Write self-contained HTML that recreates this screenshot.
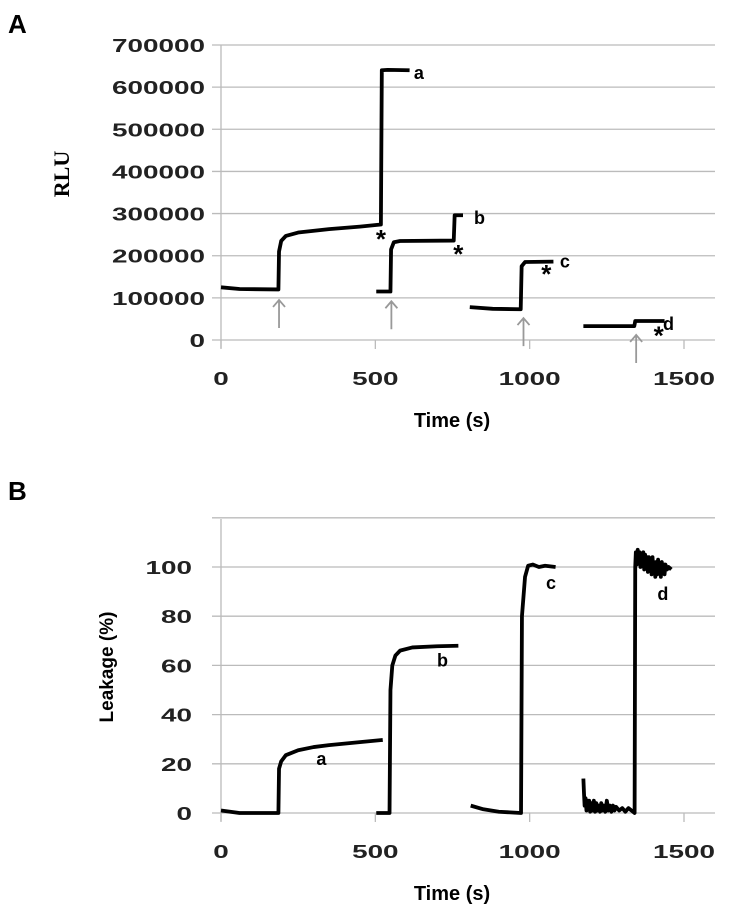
<!DOCTYPE html>
<html><head><meta charset="utf-8"><style>
body{margin:0;background:#fff;}
svg{display:block;font-family:"Liberation Sans",sans-serif;}
.tick{font-size:18px;font-weight:bold;fill:#222;}
</style></head><body>
<svg id="fig" width="729" height="909" viewBox="0 0 729 909">
<text x="8" y="33" font-size="26" font-weight="bold">A</text>
<text x="8" y="500" font-size="26" font-weight="bold">B</text>
<g id="pa"></g>
<g id="pb"></g>
</svg>
<script>
const NS="http://www.w3.org/2000/svg";
// Panel A data
const xTicks=[0,500,1000,1500];
const aYTicks=[0,100000,200000,300000,400000,500000,600000,700000];
const aSeriesA=[[0,125000],[60,121000],[186,120000],[188,210000],[195,235000],[210,247000],[250,255000],[350,263000],[450,269000],[518,274000],[521,640000],[540,641000],[611,640000]];
const aSeriesB=[[503,115000],[549,115000],[551,215000],[560,232000],[580,235000],[754,236000],[757,296000],[784,296000]];
const aSeriesC=[[806,78000],[880,74000],[971,73000],[974,175000],[985,185000],[1077,186000]];
const aSeriesD=[[1174,33000],[1339,33000],[1342,45000],[1437,45000]];
const aArrows=[[188,95000],[552,92000],[980,52000],[1345,12000]];
const aStars=[[518,249000],[769,214000],[1054,166000],[1418,20000]];
const aLabels=[["a",641,633000],["b",836,289000],["c",1114,186000],["d",1448,38000]];
// Panel B data
const bYTicks=[0,20,40,60,80,100,120];
const bYLabels=["0","20","40","60","80","100",""];
const bSeriesA=[[0,1],[60,0],[186,0],[188,18],[195,21],[210,23.5],[250,25.5],[300,26.8],[350,27.6],[450,28.8],[524,29.7]];
const bSeriesB=[[503,0],[546,0],[549,50],[555,60],[565,64],[580,66],[620,67.3],[700,67.8],[769,68]];
const bSeriesC=[[809,3],[850,1.5],[900,0.5],[972,0],[975,80],[985,96],[995,100.5],[1010,101],[1030,100],[1050,100.5],[1084,100]];
const bSeriesD=[[1174,14],[1176,8],[1178,3],[1181,6],[1184,1],[1187,5],[1190,2],[1193,5],[1196,0.5],[1200,4],[1204,1],[1208,5],[1212,0.5],[1216,4],[1220,1],[1224,3],[1228,0.5],[1232,4],[1236,1],[1240,3],[1245,0.5],[1250,5],[1255,1],[1260,3],[1265,0.5],[1270,3],[1275,1],[1280,2.5],[1290,1],[1300,2],[1310,0.5],[1320,2],[1335,0.5],[1340,0],[1342,100],[1344,106],[1347,101],[1350,107],[1353,102],[1356,106],[1359,100],[1362,105],[1365,101],[1368,106],[1371,99],[1374,105],[1377,100],[1380,104],[1383,98],[1386,104],[1389,99],[1392,103],[1395,97],[1398,104],[1401,98],[1404,102],[1407,96],[1410,102],[1413,97],[1416,103],[1419,98],[1422,101],[1425,96],[1428,102],[1431,98],[1434,101],[1437,97],[1440,101],[1445,99],[1450,100],[1459,99]];
const bLabels=[["a",325,22],["b",716,62],["c",1069,93.5],["d",1430,89]];

function sx(t){return 221+t*(463/1500);}
function syA(v){return 340-v*(295/700000);}
function syB(v){return 813-v*(246/100);}
function mk(parent,tag,attrs){const e=document.createElementNS(NS,tag);for(const k in attrs)e.setAttribute(k,attrs[k]);parent.appendChild(e);return e;}

function axes(g,yTicks,yLabs,sy,yTop,yBottom,xLabelY,tickRight){
  yTicks.forEach((v,i)=>{
    const l=mk(g,'line',{x1:212,x2:715,y1:sy(v),y2:sy(v),stroke:'#bbb','stroke-width':1.3});
    
    
    if(yLabs[i]!==""){
      const s=yLabs[i];
      const t=mk(g,'text',{x:tickRight,y:sy(v)+7,'text-anchor':'end',class:'tick',textLength:s.length*15.5,lengthAdjust:'spacingAndGlyphs'});
      t.textContent=s;
      
      
    }
  });
  const ax=mk(g,'line',{x1:221,x2:221,y1:yTop,y2:yBottom+8,stroke:'#bbb','stroke-width':1.3});
  
  
  xTicks.forEach(t=>{
    const l=mk(g,'line',{x1:sx(t),x2:sx(t),y1:yBottom,y2:yBottom+9,stroke:'#bbb','stroke-width':1.3});
    
    
    const s=String(t);
    const tx=mk(g,'text',{x:sx(t),y:xLabelY,'text-anchor':'middle',class:'tick',textLength:s.length*15.5,lengthAdjust:'spacingAndGlyphs'});
    tx.textContent=s;
    
    
  });
}
function line(g,data,sy,name){
  const p=mk(g,'polyline',{points:data.map(d=>sx(d[0])+','+sy(d[1])).join(' '),fill:'none',stroke:'#000','stroke-width':3.8,'stroke-linejoin':'round'});
  
  
}
function label(g,txt,x,y,name,size){
  const t=mk(g,'text',{x:x,y:y,'font-size':size||18,'font-weight':'bold'});
  t.textContent=txt;
  
  
  return t;
}

// Panel A
const ga=document.getElementById('pa');
axes(ga,aYTicks,aYTicks.map(String),syA,45,340,385,205);
line(ga,aSeriesA,syA,'series-a');
line(ga,aSeriesB,syA,'series-b');
line(ga,aSeriesC,syA,'series-c');
line(ga,aSeriesD,syA,'series-d');
aArrows.forEach(a=>{
  const x=sx(a[0]);const y=syA(a[1]);
  const p=mk(ga,'path',{d:`M${x},${y+28} L${x},${y} M${x-6},${y+7} L${x},${y} L${x+6},${y+7}`,fill:'none',stroke:'#999','stroke-width':1.8});
  
  
});
aStars.forEach(s=>{
  const t=mk(ga,'text',{x:sx(s[0]),y:syA(s[1])+13,'text-anchor':'middle','font-size':26,'font-weight':'bold'});
  t.textContent='*';
  
  
});
aLabels.forEach(l=>label(ga,l[0],sx(l[1])-5,syA(l[2])+6,'curve-label-'+l[0]));
const ra=label(ga,'RLU',0,0,'y-axis-title',22);
ra.setAttribute('transform','translate(69,174) rotate(-90)');ra.setAttribute('text-anchor','middle');ra.setAttribute('font-family','Liberation Serif');
const xa=label(ga,'Time (s)',452,427,'x-axis-title',20);
xa.setAttribute('text-anchor','middle');

// Panel B
const gb=document.getElementById('pb');
axes(gb,bYTicks,bYLabels,syB,519,813,858,192);
line(gb,bSeriesA,syB,'series-a');
line(gb,bSeriesB,syB,'series-b');
line(gb,bSeriesC,syB,'series-c');
line(gb,bSeriesD,syB,'series-d');
bLabels.forEach(l=>label(gb,l[0],sx(l[1])-5,syB(l[2])+6,'curve-label-'+l[0]));
const rb=label(gb,'Leakage (%)',0,0,'y-axis-title',19);
rb.setAttribute('transform','translate(113,667) rotate(-90)');rb.setAttribute('text-anchor','middle');
const xb=label(gb,'Time (s)',452,900,'x-axis-title',20);
xb.setAttribute('text-anchor','middle');
</script>
</body></html>
